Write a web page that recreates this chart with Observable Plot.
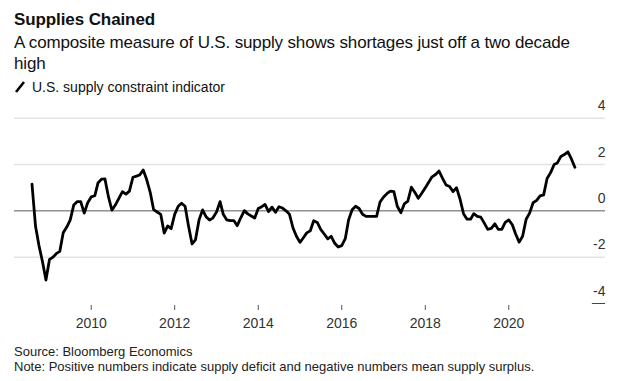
<!DOCTYPE html>
<html>
<head>
<meta charset="utf-8">
<script src="https://cdn.jsdelivr.net/npm/d3@7"></script>
<script src="https://cdn.jsdelivr.net/npm/@observablehq/plot@0.6"></script>
<style>
  html, body { margin: 0; padding: 0; background: #fff; }
  body { width: 640px; height: 381px; position: relative; overflow: hidden;
         font-family: "Liberation Sans", Arial, sans-serif; color: #111; }
  .abs { position: absolute; left: 14px; white-space: nowrap; }
  #title { top: 10px; font-size: 17px; line-height: 20px; font-weight: bold; letter-spacing: -0.1px; }
  #subtitle { top: 32px; font-size: 17px; line-height: 21px; letter-spacing: -0.15px; }
  #legend { top: 79px; font-size: 14px; line-height: 16px; display: flex; align-items: center; }
  #legend svg { margin-right: 6px; }
  #chart { position: absolute; left: 0; top: 95px; }
  #source { top: 344px; font-size: 13px; line-height: 15px; color: #222; }
</style>
</head>
<body>
<div id="title" class="abs">Supplies Chained</div>
<div id="subtitle" class="abs">A composite measure of U.S. supply shows shortages just off a two decade<br>high</div>
<div id="legend" class="abs"><svg width="12" height="12"><line x1="2" y1="11" x2="10" y2="1" stroke="#000" stroke-width="2.6"/></svg><span>U.S. supply constraint indicator</span></div>
<div id="chart"></div>
<div id="source" class="abs">Source: Bloomberg Economics<br>Note: Positive numbers indicate supply deficit and negative numbers mean supply surplus.</div>
<script>
// Monthly values, first value = August 2008
const startYear = 2008, startMonth = 7; // 0-based month (August)
const v2008 = [1.15, -0.67, -1.5, -2.2, -2.99];
const v2009 = [-2.1, -2.0, -1.85, -1.75, -0.95, -0.7, -0.4, 0.25, 0.4, 0.4, -0.1, 0.35];
const v2010 = [0.6, 0.65, 1.2, 1.37, 1.38, 0.6, 0.03, 0.26, 0.55, 0.83, 0.72, 0.85];
const v2011 = [1.45, 1.5, 1.55, 1.76, 1.35, 0.8, 0.05, -0.05, -0.15, -0.96, -0.65, -0.77];
const v2012 = [-0.15, 0.2, 0.33, 0.2, -0.65, -1.43, -1.25, -0.39, 0.04, -0.25, -0.4, -0.3];
const v2013 = [-0.05, 0.4, -0.15, -0.39, -0.42, -0.42, -0.64, -0.3, 0.01, -0.13, -0.22, -0.31];
const v2014 = [0.1, 0.18, 0.28, -0.03, 0.16, -0.06, 0.18, 0.12, 0.0, -0.15, -0.74, -1.1];
const v2015 = [-1.36, -1.15, -0.95, -0.86, -0.43, -0.5, -0.8, -1.0, -1.21, -1.1, -1.4, -1.56];
const v2016 = [-1.5, -1.2, -0.39, 0.05, 0.2, 0.1, -0.15, -0.24, -0.24, -0.24, -0.24, 0.38];
const v2017 = [0.6, 0.75, 0.85, 0.83, 0.2, -0.08, 0.3, 0.42, 1.02, 0.8, 0.54, 0.76];
const v2018 = [1.0, 1.25, 1.47, 1.57, 1.72, 1.4, 1.12, 1.05, 0.83, 1.0, 0.5, -0.12];
const v2019 = [-0.36, -0.36, -0.12, -0.24, -0.27, -0.53, -0.8, -0.76, -0.56, -0.8, -0.8, -0.5];
const v2020 = [-0.39, -0.6, -1.0, -1.35, -1.1, -0.36, -0.1, 0.35, 0.45, 0.65, 0.69, 1.4];
const v2021 = [1.65, 2.0, 2.07, 2.35, 2.43, 2.55, 2.25, 1.88];

const yTicks = [4, 2, 0, -2, -4];
const xTickYears = [2010, 2012, 2014, 2016, 2018, 2020];

const values = [].concat(v2008, v2009, v2010, v2011, v2012, v2013, v2014,
                         v2015, v2016, v2017, v2018, v2019, v2020, v2021);
const data = values.map((v, i) => ({
  date: new Date(Date.UTC(startYear, startMonth + i, 1)),
  value: v
}));

const xDomain = [new Date(Date.UTC(2008, 2, 1)), new Date(Date.UTC(2022, 3, 26))];
const shortRuleStart = new Date(Date.UTC(2022, 0, 1));

const chart = Plot.plot({
  width: 640,
  height: 245,
  marginTop: 22.7,
  marginBottom: 37,
  marginLeft: 14,
  marginRight: 35,
  style: { fontFamily: "Liberation Sans, Arial, sans-serif", background: "transparent" },
  x: { type: "utc", domain: xDomain, axis: null },
  y: { domain: [-4, 4], axis: null },
  marks: [
    Plot.ruleY(yTicks.filter(d => d !== 0 && d !== -4), { stroke: "#e3e3e3", strokeWidth: 1.5 }),
    Plot.ruleY([-4], { x1: shortRuleStart, x2: xDomain[1], stroke: "#444", strokeWidth: 1 }),
    Plot.ruleY([0], { stroke: "#5a5a5a", strokeWidth: 1 }),
    Plot.text(yTicks, {
      x: xDomain[1], y: d => d, text: d => String(d),
      textAnchor: "end", lineAnchor: "bottom", dy: -8,
      fontSize: 14, fill: "#333"
    }),
    Plot.axisX({
      ticks: xTickYears.map(y => new Date(Date.UTC(y, 0, 1))),
      tickFormat: d3.utcFormat("%Y"),
      tickSize: 5, tickPadding: 8, dy: 2,
      fontSize: 14, stroke: "#555", fill: "#333"
    }),
    Plot.lineY(data, { x: "date", y: "value", stroke: "#000", strokeWidth: 2.8, strokeLinejoin: "round" })
  ]
});
document.getElementById("chart").appendChild(chart);
</script>
</body>
</html>
